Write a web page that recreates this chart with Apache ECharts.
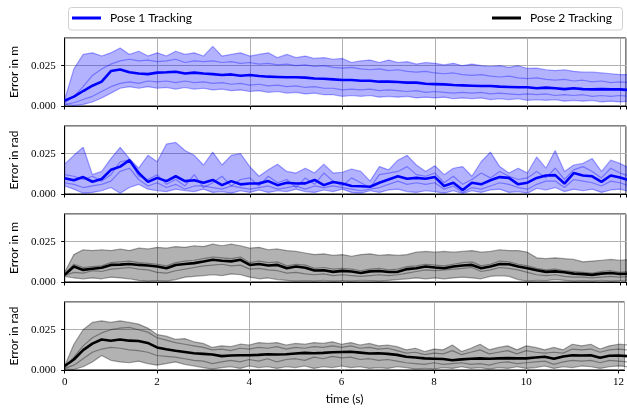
<!DOCTYPE html>
<html>
<head>
<meta charset="utf-8">
<script src="https://cdn.jsdelivr.net/npm/echarts@6/dist/echarts.min.js"></script>
<style>
html, body { margin: 0; padding: 0; background: #fff; }
#chart { width: 627px; height: 412px; }
</style>
</head>
<body>
<div id="chart"></div>
<script>
// sample times (s)
var time = [0,0.2,0.4,0.6,0.8,1.0,1.2,1.4,1.6,1.8,
    2.0,2.2,2.4,2.6,2.8,3.0,3.2,3.4,3.6,3.8,
    4.0,4.2,4.4,4.6,4.8,5.0,5.2,5.4,5.6,5.8,
    6.0,6.2,6.4,6.6,6.8,7.0,7.2,7.4,7.6,7.8,
    8.0,8.2,8.4,8.6,8.8,9.0,9.2,9.4,9.6,9.8,
    10.0,10.2,10.4,10.6,10.8,11.0,11.2,11.4,11.6,11.8,
    12.0,12.2];

// Pose 1, position error (m)
var pose1PosMean = [0.0033,0.0058,0.0093,0.0126,0.0151,0.0217,0.0227,0.0209,0.0202,0.0198,
    0.0207,0.0209,0.0213,0.0202,0.0207,0.0202,0.0198,0.0192,0.0196,0.0188,
    0.0192,0.0186,0.0182,0.0180,0.0178,0.0178,0.0176,0.0171,0.0169,0.0165,
    0.0161,0.0161,0.0157,0.0157,0.0151,0.0151,0.0149,0.0145,0.0145,0.0138,
    0.0136,0.0134,0.0130,0.0128,0.0126,0.0124,0.0124,0.0120,0.0118,0.0116,
    0.0116,0.0110,0.0114,0.0110,0.0105,0.0110,0.0105,0.0103,0.0105,0.0103,
    0.0103,0.0099];
var pose1PosHigh = [0.004,0.023,0.032,0.033,0.031,0.033,0.036,0.032,0.034,0.031,
    0.033,0.031,0.034,0.032,0.033,0.031,0.037,0.031,0.032,0.033,
    0.031,0.032,0.033,0.030,0.032,0.030,0.031,0.0295,0.030,0.029,
    0.0295,0.027,0.028,0.0285,0.027,0.0285,0.027,0.0275,0.026,0.027,
    0.0265,0.0255,0.0265,0.025,0.026,0.025,0.0245,0.025,0.024,0.025,
    0.0233,0.0235,0.0225,0.022,0.0225,0.0215,0.021,0.021,0.0205,0.020,
    0.0195,0.0195];
var pose1PosB = [0.002,0.006,0.012,0.019,0.023,0.026,0.028,0.029,0.028,0.0285,
    0.0275,0.028,0.029,0.027,0.028,0.0275,0.028,0.027,0.0275,0.0265,
    0.027,0.026,0.0265,0.0255,0.026,0.025,0.0255,0.0245,0.025,0.024,
    0.0235,0.024,0.023,0.0225,0.023,0.022,0.0225,0.0215,0.021,0.0215,
    0.0205,0.020,0.0205,0.0195,0.019,0.0195,0.0185,0.018,0.0185,0.0175,
    0.017,0.0175,0.0165,0.016,0.0165,0.0155,0.016,0.015,0.0155,0.0145,
    0.015,0.0145];
var pose1PosC = [0.001,0.002,0.004,0.006,0.009,0.012,0.014,0.015,0.014,0.0155,
    0.015,0.0155,0.0145,0.0155,0.0145,0.015,0.014,0.0145,0.0135,0.014,
    0.013,0.0135,0.0125,0.013,0.012,0.0125,0.0115,0.012,0.011,0.011,
    0.010,0.0105,0.010,0.0105,0.0095,0.010,0.0095,0.009,0.0095,0.0085,
    0.009,0.0085,0.008,0.0085,0.008,0.0085,0.0075,0.008,0.0075,0.007,
    0.0075,0.007,0.0075,0.0065,0.007,0.0065,0.007,0.006,0.0065,0.006,
    0.0065,0.006];
var pose1PosLow = [0.001,0.0003,0.001,0.0025,0.005,0.008,0.011,0.012,0.011,0.012,
    0.011,0.0115,0.0105,0.0115,0.0105,0.011,0.010,0.0105,0.0095,0.010,
    0.009,0.0095,0.0085,0.009,0.008,0.0085,0.0075,0.008,0.007,0.007,
    0.006,0.0065,0.006,0.0065,0.0055,0.006,0.0055,0.006,0.005,0.0055,
    0.005,0.0055,0.0045,0.005,0.0045,0.005,0.004,0.0045,0.004,0.0045,
    0.0035,0.004,0.0035,0.004,0.003,0.0035,0.003,0.0035,0.0025,0.003,
    0.0025,0.003];

// Pose 1, orientation error (rad)
var pose1RotMean = [0.0098,0.0085,0.0105,0.0076,0.0093,0.0150,0.0170,0.0210,0.0130,0.0075,
    0.0100,0.0080,0.0110,0.0080,0.0085,0.0070,0.0087,0.0055,0.0080,0.0060,
    0.0065,0.0066,0.0080,0.0055,0.0070,0.0065,0.0066,0.0087,0.0055,0.0074,
    0.0065,0.0050,0.0048,0.0045,0.0070,0.0090,0.0110,0.0095,0.0100,0.0095,
    0.0105,0.0050,0.0070,0.0025,0.0070,0.0060,0.0085,0.0105,0.0100,0.0060,
    0.0070,0.0100,0.0115,0.0117,0.0065,0.0130,0.0115,0.0110,0.0075,0.0115,
    0.0102,0.0085];
var pose1RotHigh = [0.0185,0.024,0.029,0.012,0.014,0.022,0.029,0.022,0.016,0.024,
    0.020,0.031,0.032,0.027,0.024,0.018,0.026,0.018,0.024,0.025,
    0.017,0.011,0.015,0.0185,0.014,0.013,0.016,0.013,0.0185,0.013,
    0.0135,0.0155,0.014,0.008,0.017,0.015,0.021,0.024,0.018,0.014,
    0.0175,0.012,0.016,0.017,0.011,0.020,0.026,0.017,0.013,0.016,
    0.013,0.023,0.016,0.027,0.014,0.018,0.019,0.022,0.014,0.021,
    0.019,0.016];
var pose1RotB = [0.012,0.011,0.009,0.011,0.008,0.012,0.020,0.021,0.011,0.009,
    0.012,0.006,0.009,0.005,0.012,0.004,0.007,0.011,0.005,0.009,
    0.010,0.005,0.011,0.007,0.009,0.004,0.010,0.006,0.013,0.008,
    0.005,0.010,0.007,0.004,0.012,0.013,0.014,0.017,0.012,0.011,
    0.013,0.007,0.011,0.006,0.009,0.013,0.010,0.014,0.011,0.009,
    0.010,0.014,0.010,0.016,0.009,0.015,0.017,0.014,0.010,0.016,
    0.013,0.011];
var pose1RotC = [0.007,0.006,0.004,0.005,0.006,0.008,0.014,0.016,0.009,0.005,
    0.007,0.004,0.006,0.003,0.005,0.005,0.004,0.003,0.005,0.004,
    0.003,0.004,0.005,0.003,0.004,0.005,0.003,0.005,0.004,0.005,
    0.004,0.003,0.002,0.003,0.004,0.006,0.008,0.006,0.007,0.006,
    0.007,0.003,0.005,0.001,0.004,0.003,0.005,0.007,0.006,0.004,
    0.003,0.006,0.008,0.008,0.004,0.009,0.008,0.007,0.005,0.008,
    0.007,0.005];
var pose1RotLow = [0.005,0.003,0.0005,0.001,0.002,0.004,0.0005,0.004,0.006,0.003,
    0.002,0.0015,0.003,0.002,0.0015,0.003,0.001,0.0015,0.0005,0.002,
    0.001,0.0025,0.001,0.002,0.0015,0.003,0.0015,0.001,0.0025,0.0015,
    0.003,0.001,0.0005,0.002,0.001,0.0025,0.003,0.0015,0.001,0.002,
    0.0015,0.0005,0.002,0.0003,0.002,0.001,0.0025,0.003,0.001,0.0015,
    0.0005,0.0035,0.0025,0.004,0.0015,0.003,0.002,0.003,0.001,0.0025,
    0.003,0.0015];

// Pose 2, position error (m)
var pose2PosMean = [0.0044,0.0096,0.0075,0.0082,0.0088,0.0106,0.0108,0.0112,0.0106,0.0102,
    0.0096,0.0085,0.0106,0.0112,0.0117,0.0127,0.0138,0.0132,0.0128,0.0138,
    0.0106,0.0112,0.0102,0.0106,0.0085,0.0096,0.0088,0.0071,0.0073,0.0063,
    0.0069,0.0065,0.0056,0.0066,0.0068,0.0062,0.0063,0.0080,0.0085,0.0096,
    0.0090,0.0085,0.0096,0.0102,0.0106,0.0085,0.0096,0.0112,0.0110,0.0096,
    0.0085,0.0073,0.0063,0.0066,0.0060,0.0052,0.0049,0.0044,0.0052,0.0056,
    0.0050,0.0052];
var pose2PosHigh = [0.006,0.017,0.020,0.0195,0.020,0.0195,0.0205,0.0195,0.021,0.0205,
    0.0215,0.021,0.022,0.0215,0.0225,0.022,0.0235,0.0225,0.0235,0.0225,
    0.021,0.0215,0.020,0.0205,0.0195,0.019,0.018,0.017,0.0175,0.0165,
    0.017,0.016,0.017,0.0175,0.0165,0.017,0.0165,0.017,0.0185,0.019,
    0.0185,0.019,0.0185,0.019,0.0195,0.0185,0.019,0.020,0.0195,0.0195,
    0.0185,0.015,0.0145,0.015,0.0145,0.014,0.0125,0.013,0.0135,0.014,
    0.0135,0.014];
var pose2PosB = [0.005,0.011,0.009,0.0095,0.010,0.012,0.0125,0.013,0.012,0.0115,
    0.011,0.010,0.012,0.013,0.0135,0.0145,0.0155,0.015,0.0145,0.0155,
    0.012,0.013,0.012,0.0125,0.010,0.011,0.0105,0.0085,0.009,0.008,
    0.0085,0.008,0.007,0.008,0.0085,0.0075,0.008,0.0095,0.010,0.011,
    0.0105,0.010,0.011,0.012,0.0125,0.010,0.011,0.013,0.0125,0.011,
    0.010,0.0085,0.0075,0.008,0.007,0.0065,0.006,0.0055,0.0065,0.007,
    0.006,0.0065];
var pose2PosC = [0.004,0.006,0.0055,0.007,0.0065,0.008,0.0085,0.009,0.008,0.0075,
    0.006,0.0055,0.007,0.008,0.009,0.010,0.0105,0.011,0.010,0.0105,
    0.008,0.0085,0.0075,0.007,0.0055,0.006,0.005,0.0045,0.005,0.004,
    0.0045,0.004,0.0035,0.004,0.0045,0.004,0.0045,0.0055,0.0065,0.0075,
    0.007,0.0075,0.008,0.0085,0.009,0.0065,0.0075,0.009,0.0085,0.0075,
    0.006,0.0045,0.004,0.0045,0.0035,0.003,0.003,0.0025,0.003,0.0035,
    0.003,0.0035];
var pose2PosLow = [0.0035,0.0025,0.002,0.0025,0.002,0.003,0.0025,0.002,0.001,0.0005,
    0.0008,0.0005,0.0015,0.003,0.0035,0.004,0.0045,0.004,0.005,0.0045,
    0.003,0.002,0.0025,0.0015,0.001,0.0005,0.0008,0.0005,0.001,0.0005,
    0.0008,0.0005,0.001,0.0008,0.0005,0.001,0.0015,0.002,0.0025,0.002,
    0.0025,0.002,0.0025,0.003,0.0025,0.002,0.0035,0.004,0.0035,0.0015,
    0.0005,0.001,0.0008,0.0015,0.001,0.0005,0.0008,0.0005,0.001,0.0005,
    0.0008,0.001];

// Pose 2, orientation error (rad)
var pose2RotMean = [0.0025,0.0065,0.0123,0.0164,0.0189,0.0182,0.0189,0.0182,0.0180,0.0168,
    0.0140,0.0129,0.0120,0.0112,0.0104,0.0100,0.0096,0.0086,0.0090,0.0092,
    0.0092,0.0094,0.0098,0.0096,0.0098,0.0102,0.0106,0.0104,0.0106,0.0110,
    0.0112,0.0113,0.0108,0.0102,0.0104,0.0100,0.0094,0.0082,0.0078,0.0072,
    0.0070,0.0068,0.0061,0.0066,0.0070,0.0072,0.0070,0.0072,0.0074,0.0072,
    0.0072,0.0078,0.0082,0.0070,0.0084,0.0092,0.0090,0.0092,0.0076,0.0088,
    0.0090,0.0086];
var pose2RotHigh = [0.0025,0.016,0.025,0.0295,0.0305,0.0295,0.0305,0.0295,0.0285,0.026,
    0.022,0.021,0.019,0.0195,0.0175,0.0165,0.014,0.015,0.0145,0.016,
    0.0155,0.017,0.0165,0.017,0.0155,0.0165,0.016,0.017,0.0165,0.0175,
    0.016,0.017,0.0155,0.0165,0.015,0.0155,0.0145,0.0125,0.0135,0.0115,
    0.013,0.0125,0.0155,0.0115,0.0135,0.016,0.0125,0.014,0.015,0.0125,
    0.015,0.014,0.0125,0.014,0.0125,0.016,0.015,0.016,0.013,0.015,
    0.016,0.0155];
var pose2RotB = [0.0015,0.008,0.015,0.020,0.023,0.025,0.026,0.0265,0.025,0.0235,
    0.020,0.0185,0.017,0.016,0.015,0.014,0.0125,0.013,0.012,0.0135,
    0.013,0.014,0.0135,0.0145,0.013,0.014,0.0135,0.0145,0.014,0.015,
    0.014,0.015,0.0135,0.014,0.013,0.0135,0.012,0.0105,0.011,0.0095,
    0.0105,0.010,0.012,0.0095,0.011,0.0125,0.010,0.011,0.012,0.010,
    0.012,0.011,0.0105,0.011,0.0105,0.013,0.0125,0.013,0.011,0.0125,
    0.013,0.0125];
var pose2RotC = [0.001,0.003,0.007,0.011,0.013,0.014,0.0135,0.0125,0.012,0.011,
    0.009,0.0085,0.008,0.007,0.006,0.0055,0.004,0.005,0.006,0.005,
    0.0065,0.0055,0.007,0.005,0.0065,0.007,0.006,0.008,0.007,0.0085,
    0.0075,0.008,0.0065,0.007,0.006,0.0065,0.0055,0.0045,0.004,0.0035,
    0.0045,0.0035,0.004,0.0045,0.0035,0.004,0.003,0.0045,0.005,0.004,
    0.0045,0.005,0.0055,0.0035,0.005,0.006,0.0055,0.006,0.0045,0.006,
    0.0055,0.005];
var pose2RotLow = [0.0005,0.0003,0.002,0.005,0.009,0.006,0.005,0.0045,0.0055,0.004,
    0.003,0.004,0.005,0.0035,0.0025,0.0015,0.0005,0.0015,0.002,0.001,
    0.0025,0.0015,0.002,0.001,0.002,0.0015,0.0025,0.001,0.002,0.0015,
    0.0025,0.0015,0.002,0.001,0.0015,0.001,0.002,0.0015,0.0005,0.001,
    0.0005,0.0015,0.001,0.002,0.001,0.0015,0.0005,0.0015,0.001,0.002,
    0.001,0.0015,0.0025,0.001,0.002,0.0015,0.0025,0.002,0.001,0.002,
    0.0025,0.002];

var panels = [
    {name: 'Pose 1 Tracking', unit: 'Error in m', mean: pose1PosMean, high: pose1PosHigh, low: pose1PosLow,
        trials: [pose1PosHigh, pose1PosB, pose1PosC, pose1PosLow], line: '#0000ff', fill: 'rgba(0,0,255,0.3)', thin: 'rgba(0,0,255,0.35)'},
    {name: 'Pose 1 Tracking', unit: 'Error in rad', mean: pose1RotMean, high: pose1RotHigh, low: pose1RotLow,
        trials: [pose1RotHigh, pose1RotB, pose1RotC, pose1RotLow], line: '#0000ff', fill: 'rgba(0,0,255,0.3)', thin: 'rgba(0,0,255,0.35)'},
    {name: 'Pose 2 Tracking', unit: 'Error in m', mean: pose2PosMean, high: pose2PosHigh, low: pose2PosLow,
        trials: [pose2PosHigh, pose2PosB, pose2PosC, pose2PosLow], line: '#000000', fill: 'rgba(0,0,0,0.3)', thin: 'rgba(0,0,0,0.35)'},
    {name: 'Pose 2 Tracking', unit: 'Error in rad', mean: pose2RotMean, high: pose2RotHigh, low: pose2RotLow,
        trials: [pose2RotHigh, pose2RotB, pose2RotC, pose2RotLow], line: '#000000', fill: 'rgba(0,0,0,0.3)', thin: 'rgba(0,0,0,0.35)'}
];

var tops = [38, 126, 214, 302];
var serif = 'Liberation Serif';
var sans = 'Lato';

function pairs(arr) {
    return time.map(function (t, j) { return [t, arr[j]]; });
}

// min-max band as one polygon, placed through the axes
function bandRenderer(p) {
    return function (params, api) {
        if (params.dataIndex !== 0) return null;
        var upper = [], lower = [];
        for (var j = 0; j < time.length; j++) {
            upper.push(api.coord([time[j], p.high[j]]));
            lower.push(api.coord([time[j], p.low[j]]));
        }
        return {
            type: 'polygon',
            shape: {points: upper.concat(lower.reverse())},
            style: {fill: p.fill, stroke: null}
        };
    };
}

var grids = [], xAxes = [], yAxes = [], series = [];

panels.forEach(function (p, i) {
    grids.push({
        left: 62, width: 564, top: tops[i], height: 68,
        show: true, borderColor: '#000', borderWidth: 1, backgroundColor: 'transparent'
    });
    xAxes.push({
        gridIndex: i, type: 'value', min: 0, max: 12.13, interval: 2,
        axisLine: {show: true, lineStyle: {color: '#000', width: 1}},
        axisTick: {show: true, length: 3.5, lineStyle: {color: '#000'}},
        axisLabel: {show: i === 3, showMaxLabel: false, margin: 7, fontFamily: serif, fontSize: 11, color: '#000',
            formatter: function (v) { return String(v); }},
        splitLine: {show: true, lineStyle: {color: '#b0b0b0', width: 1}},
        name: i === 3 ? 'time (s)' : '', nameLocation: 'middle', nameGap: 23,
        nameTextStyle: {fontFamily: sans, fontSize: 12, color: '#000'}
    });
    yAxes.push({
        gridIndex: i, type: 'value', min: 0, max: 0.0422, interval: 0.025,
        axisLine: {show: true, lineStyle: {color: '#000', width: 1}},
        axisTick: {show: true, length: 3.5, lineStyle: {color: '#000'}},
        axisLabel: {showMaxLabel: false, margin: 9, fontFamily: serif, fontSize: 11, color: '#000',
            formatter: function (v) { return v.toFixed(3); }},
        splitLine: {show: true, lineStyle: {color: '#b0b0b0', width: 1}},
        name: p.unit, nameLocation: 'middle', nameGap: 41,
        nameTextStyle: {fontFamily: sans, fontSize: 12, color: '#000'}
    });

    series.push({
        type: 'custom', name: 'band' + i, xAxisIndex: i, yAxisIndex: i, silent: true, clip: true, z: 1,
        data: time.map(function (t, j) { return [t, p.low[j], p.high[j]]; }),
        encode: {x: 0, y: [1, 2]},
        renderItem: bandRenderer(p)
    });
    // single runs
    p.trials.forEach(function (tr, k) {
        series.push({
            type: 'line', name: 'run' + i + '_' + k, xAxisIndex: i, yAxisIndex: i,
            data: pairs(tr), symbol: 'none', silent: true,
            lineStyle: {color: p.thin, width: 1.2}, z: 2
        });
    });
    // mean
    series.push({
        type: 'line', name: p.name, xAxisIndex: i, yAxisIndex: i,
        data: pairs(p.mean), symbol: 'none',
        lineStyle: {color: p.line, width: 2.6}, itemStyle: {color: p.line}, z: 3
    });
});

var legendBase = {
    icon: 'rect', itemWidth: 29, itemHeight: 3, padding: 0, top: 12, selectedMode: false,
    textStyle: {fontFamily: sans, fontSize: 12, color: '#000', padding: [0, 0, 0, 4]}
};

var chart = echarts.init(document.getElementById('chart'));
chart.setOption({
    animation: false,
    backgroundColor: '#fff',
    graphic: [{
        type: 'rect', z: 0,
        shape: {x: 68.5, y: 7.5, width: 554, height: 22.5, r: 3},
        style: {fill: '#fff', stroke: '#d0d0d0', lineWidth: 1}
    }],
    legend: [
        Object.assign({}, legendBase, {data: ['Pose 1 Tracking'], left: 72}),
        Object.assign({}, legendBase, {data: ['Pose 2 Tracking'], left: 492})
    ],
    grid: grids,
    xAxis: xAxes,
    yAxis: yAxes,
    series: series
});
</script>
</body>
</html>
